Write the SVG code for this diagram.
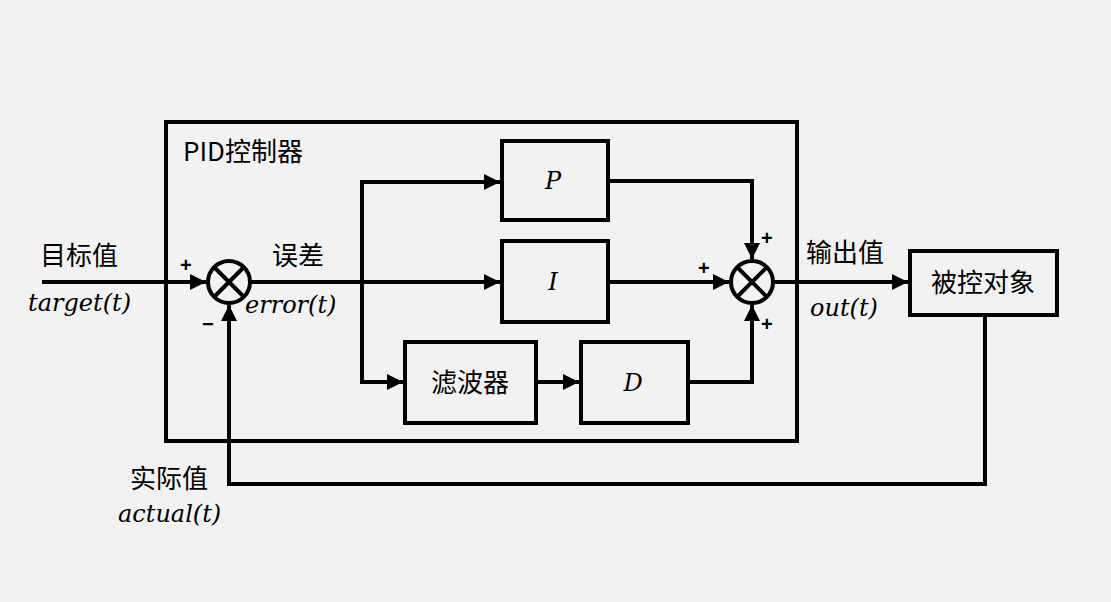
<svg xmlns="http://www.w3.org/2000/svg" width="1111" height="602" viewBox="0 0 1111 602">
<defs>
<style>
.b{fill:none;stroke:#000;stroke-width:4}
.l{fill:none;stroke:#000;stroke-width:4}
.t{font-family:"Noto Sans CJK SC","Liberation Sans",sans-serif;font-size:26px;fill:#000}
.m{font-family:"DejaVu Serif","Liberation Serif",serif;font-style:italic;font-size:24px;fill:#000}
.p{font-family:"Liberation Sans",sans-serif;font-weight:bold;font-size:20px;fill:#000}
</style>
<marker id="a" viewBox="0 0 10 10" refX="10" refY="5" markerWidth="4" markerHeight="4" orient="auto" markerUnits="strokeWidth"><path d="M0,0L10,5L0,10z" fill="#000"/></marker>
</defs>
<rect width="1111" height="602" fill="#f2f2f2"/>
<g id="pid"><rect x="166" y="122" width="631" height="319" class="b"/><text x="183" y="161" class="t">PID控制器</text></g>
<g id="sum1"><circle cx="229" cy="282" r="21" class="b" fill="#fff"/><path d="M214,267L244,297M244,267L214,297" class="b"/></g>
<g id="sum2"><circle cx="752" cy="282" r="21" class="b" fill="#fff"/><path d="M737,267L767,297M767,267L737,297" class="b"/></g>
<g id="P"><rect x="502" y="141" width="106" height="79" class="b"/><text x="553" y="189" class="m" text-anchor="middle">P</text></g>
<g id="I"><rect x="502" y="241" width="106" height="81" class="b"/><text x="553" y="290" class="m" text-anchor="middle">I</text></g>
<g id="filter"><rect x="405" y="342" width="131" height="81" class="b"/><text x="470" y="392" class="t" text-anchor="middle">滤波器</text></g>
<g id="D"><rect x="581" y="342" width="107" height="81" class="b"/><text x="633" y="391" class="m" text-anchor="middle">D</text></g>
<g id="plant"><rect x="910" y="251" width="147" height="64" class="b"/><text x="983" y="292" class="t" text-anchor="middle">被控对象</text></g>
<g id="connectors">
<path d="M42,282H206" class="l" marker-end="url(#a)"/>
<path d="M250,282H500" class="l" marker-end="url(#a)"/>
<path d="M362,282V182H500" class="l" marker-end="url(#a)"/>
<path d="M362,282V382H403" class="l" marker-end="url(#a)"/>
<path d="M536,382H579" class="l" marker-end="url(#a)"/>
<path d="M608,181H752V259" class="l" marker-end="url(#a)"/>
<path d="M608,282H729" class="l" marker-end="url(#a)"/>
<path d="M688,382H752V305" class="l" marker-end="url(#a)"/>
<path d="M773,282H908" class="l" marker-end="url(#a)"/>
<path d="M985,315V484H229V305" class="l" marker-end="url(#a)"/>
</g>
<g id="labels">
<text x="40" y="265" class="t">目标值</text>
<text x="28" y="311" class="m">target(t)</text>
<text x="272" y="265" class="t">误差</text>
<text x="245" y="313" class="m">error(t)</text>
<text x="806" y="262" class="t">输出值</text>
<text x="810" y="316" class="m">out(t)</text>
<text x="130" y="488" class="t">实际值</text>
<text x="118" y="522" class="m">actual(t)</text>
<text x="180" y="272" class="p">+</text>
<text x="202" y="331" class="p">−</text>
<text x="761" y="245" class="p">+</text>
<text x="698" y="275" class="p">+</text>
<text x="761" y="331" class="p">+</text>
</g>
</svg>
